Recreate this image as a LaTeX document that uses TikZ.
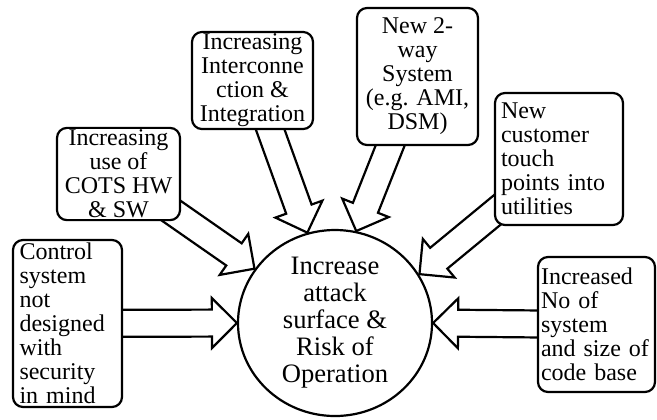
\documentclass[tikz,border=0pt]{standalone}
\usepackage{fontspec}
\setmainfont{Liberation Serif}
\usetikzlibrary{calc,shapes.geometric,backgrounds}

\tikzset{
  causebox/.style={draw, fill=white, rounded corners=5pt, line width=1.1pt,
    inner xsep=3pt, inner ysep=1pt, font=\fontsize{12}{12}\selectfont},
  leftbox/.style={causebox, align=left},
  midbox/.style={causebox, align=center},
  fatarrow/.style={draw, fill=white, line width=1.1pt, line join=miter},
  riskcircle/.style={draw, ellipse, line width=1.1pt, inner sep=0pt,
    align=center, font=\fontsize{13.3}{13.5}\selectfont},
}

% block arrow from the centre of #1 to the point #2
\newcommand\blockarrow[2]{%
  \path[fatarrow] let \p1=($(#2)-(#1)$), \n1={atan2(\y1,\x1)},
    \n2={veclen(\x1,\y1)} in [shift={(#1)}, rotate=\n1]
    (0pt,-6.75pt) -- ({\n2*1pt-12.5pt},-6.75pt) -- ({\n2*1pt-12.5pt},-12.5pt)
    -- ({\n2*1pt},0pt) -- ({\n2*1pt-12.5pt},12.5pt) -- ({\n2*1pt-12.5pt},6.75pt)
    -- (0pt,6.75pt) -- cycle;}

\begin{document}
\begin{tikzpicture}[x=0.5pt, y=-0.5pt]
\useasboundingbox (0,0) rectangle (657,419);

% centre
\node[riskcircle, minimum width=97pt, minimum height=93pt] (risk) at (335,323)
  {Increase\\attack\\surface \&\\Risk of\\Operation};

% causes
\node[leftbox, text width=48pt, minimum width=54.5pt, minimum height=83.5pt] (ctrl) at (67.5,323.5)
  {Control\\system\\not\\designed\\with\\security\\in mind};
\node[midbox, minimum width=61.5pt, minimum height=46pt] (cots) at (118.5,174)
  {Increasing\\use of\\COTS HW\\\& SW};
\node[midbox, minimum width=60.5pt, minimum height=47.5pt] (inter) at (252.5,80.5)
  {Increasing\\Interconne\\ction \&\\Integration};
\node[midbox, minimum width=60.5pt, minimum height=68.5pt] (twoway) at (417.5,76.5)
  {New 2-\\way\\System\\(e.g. AMI,\\DSM)};
\node[leftbox, text width=58pt, minimum width=64pt, minimum height=66pt] (cust) at (559,159)
  {New\\customer\\touch\\points into\\utilities};
\node[leftbox, inner xsep=1.5pt, text width=55.5pt, minimum width=58.5pt, minimum height=67.5pt] (codeb) at (596.5,324.5)
  {Increased\\No of\\system\\and size of\\code base};

\begin{pgfonlayer}{background}
  \blockarrow{ctrl}{risk.west}
  \blockarrow{cots}{risk.146}
  \blockarrow{inter}{risk.107}
  \blockarrow{twoway}{risk.77}
  \blockarrow{cust}{risk.30}
  \blockarrow{codeb}{risk.east}
\end{pgfonlayer}
\end{tikzpicture}
\end{document}
